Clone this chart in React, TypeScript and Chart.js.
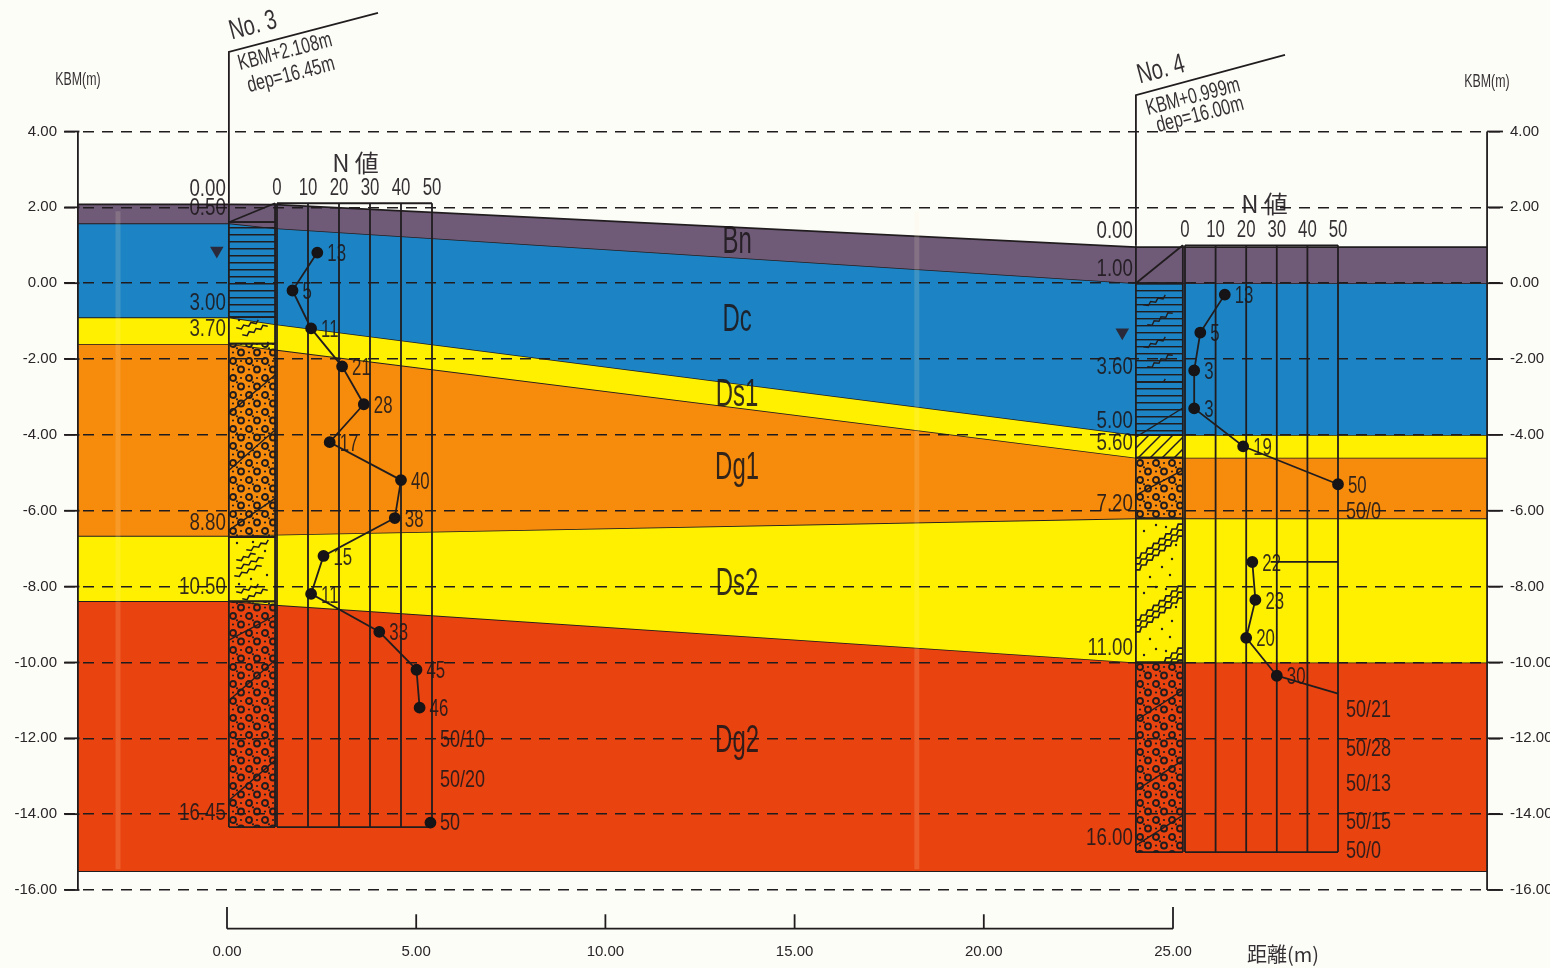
import React, { useEffect, useRef } from "react";
import { Chart, registerables } from "chart.js";
Chart.register(...registerables);

// ---------- geology (distance m, KBM m) ----------
const boundaryX = [-3.94, 0.05, 1.27, 24.02, 33.3];
const topBn = [2.08, 2.08, 2.07, 0.95, 0.95];
const topDc = [1.58, 1.58, 1.45, 0.0, 0.0];
const topDs1 = [-0.9, -0.9, -1.08, -4.0, -4.0];
const topDg1 = [-1.6, -1.6, -1.75, -4.6, -4.6];
const topDs2 = [-6.66, -6.66, -6.63, -6.2, -6.2];
const topDg2 = [-8.38, -8.38, -8.48, -10.0, -10.0];
const bottomDg2 = [-15.5, -15.5, -15.5, -15.5, -15.5];
const layerNames = ["Bn", "Dc", "Ds1", "Dg1", "Ds2", "Dg2"];
const layerNameY = [1.13, -0.92, -2.9, -4.83, -7.89, -12.03];
const layerColors = ["#6f5b78", "#1c84c4", "#fff000", "#f68b0c", "#fff000", "#e9430f"];
const layerNameX = 13.48;
const foldX = [-2.88, 18.23];

const yTickValues = [4, 2, 0, -2, -4, -6, -8, -10, -12, -14, -16];
const xTickValues = [0, 5, 10, 15, 20, 25];
const nTickValues = [0, 10, 20, 30, 40, 50];

// ---------- No.3 ----------
const no3Kbm = 2.108;
const no3Depths = [0, 0.5, 3, 3.7, 8.8, 10.5, 16.45];
const no3Soils = ["none", "clay", "sandShort", "gravel", "sandShort", "gravel"];
const no3Slashes = [[5.54, 4.53], [7.04, 5.98], [8.62, 7.78], [11.52, 10.87], [13.11, 12.05], [15.75, 14.69]];
const no3PointDepths = [1.3, 2.3, 3.3, 4.3, 5.3, 6.3, 7.3, 8.3, 9.3, 10.3, 11.3, 12.3, 13.3];
const no3PointN = [13, 5, 11, 21, 28, 17, 40, 38, 15, 11, 33, 45, 46];
const no3LastPointDepth = [16.33];
const no3LastPointN = [49.5];
const no3Labels = ["13", "5", "11", "21", "28", "17", "40", "38", "15", "11", "33", "45", "46"];
const no3ExtraLabels = ["50/10", "50/20", "50"];
const no3ExtraY = [-12.0, -13.06, -14.19];

// ---------- No.4 ----------
const no4Kbm = 0.999;
const no4Depths = [0, 1, 3.6, 5, 5.6, 7.2, 11, 16];
const no4Soils = ["none", "clayWave", "clay", "hatch", "gravel", "sandLong", "gravel"];
const no4Slashes = [[5.06, 4.29], [6.59, 5.93], [12.53, 11.73], [14.37, 13.58], [15.82, 15.03]];
const no4PointDepthsA = [1.3, 2.3, 3.3, 4.3, 5.3, 6.3];
const no4PointNA = [13, 5, 3, 3, 19, 50];
const no4LabelsA = ["13", "5", "3", "3", "19", "50"];
const no4PointDepthsB = [8.35, 9.35, 10.35, 11.35];
const no4PointNB = [22, 23, 20, 30];
const no4LabelsB = ["22", "23", "20", "30"];
const no4ExtraLabels = ["50/0", "50/21", "50/28", "50/13", "50/15", "50/0"];
const no4ExtraY = [-5.99, -11.21, -12.24, -13.16, -14.17, -14.93];

const waterLevels = [
  { x: -0.27, y: 0.86 },
  { x: 23.66, y: -1.3 },
];

const DARK = "#211d1f";
const FONT = "'Liberation Sans',Arial,sans-serif";
const CJK = "'Noto Sans CJK JP',sans-serif";

function tile(w: number, h: number, ox: number, oy: number, draw: (c: CanvasRenderingContext2D) => void) {
  const cv = document.createElement("canvas");
  cv.width = w;
  cv.height = h;
  const c = cv.getContext("2d")!;
  c.strokeStyle = DARK;
  c.fillStyle = DARK;
  draw(c);
  const p = c.createPattern(cv, "repeat")!;
  p.setTransform(new DOMMatrix().translate(ox, oy));
  return p;
}

function wave(c: CanvasRenderingContext2D, x0: number, y0: number, x1: number, y1: number) {
  const n = Math.max(4, Math.round(Math.hypot(x1 - x0, y1 - y0) / 4));
  c.beginPath();
  for (let i = 0; i <= n; i++) {
    const t = i / n;
    const off = i % 2 ? 1.2 : -1.2;
    const x = x0 + (x1 - x0) * t + off * 0.6;
    const y = y0 + (y1 - y0) * t + off;
    if (i === 0) c.moveTo(x, y);
    else c.lineTo(x, y);
  }
  c.stroke();
}

function dots(c: CanvasRenderingContext2D, pts: number[][], r = 1.2) {
  pts.forEach(([x, y]) => {
    c.beginPath();
    c.arc(x, y, r, 0, Math.PI * 2);
    c.fill();
  });
}

function makePatterns(ox: number, sandY: number) {
  const gravel = tile(16, 17, ox, 0, (c) => {
    c.lineWidth = 1.9;
    [[4, 4], [12, 12.5]].forEach(([x, y]) => {
      c.beginPath();
      c.arc(x, y, 3, 0, Math.PI * 2);
      c.stroke();
    });
    dots(c, [[12, 4], [4, 12.5], [8, 8.3]], 1.1);
  });
  const clay = tile(10, 7, 0, 0, (c) => {
    c.fillRect(0, 3, 10, 1.5);
  });
  const clayWave = tile(46, 42, ox, 0, (c) => {
    c.lineWidth = 1.4;
    for (let y = 3; y < 42; y += 7) c.fillRect(0, y, 46, 1.4);
    wave(c, 12, 32, 36, 18);
    wave(c, 8, 12, 30, 2);
  });
  const sandLong = tile(46, 62, ox, sandY, (c) => {
    c.lineWidth = 1.7;
    [0, 6, 12].forEach((o) => wave(c, 0, 38 + o, 46, 2 + o));
    dots(c, [[30, 6], [20, 4], [36, 38], [26, 46], [14, 56], [34, 54], [8, 10], [40, 24]]);
  });
  const sandShort = tile(46, 66, ox, sandY, (c) => {
    c.lineWidth = 1.5;
    wave(c, 8, 24, 26, 16);
    wave(c, 8, 32, 34, 20);
    wave(c, 6, 40, 32, 28);
    wave(c, 18, 14, 40, 4);
    wave(c, 8, 56, 30, 48);
    wave(c, 14, 63, 38, 52);
    dots(c, [[8, 6], [24, 5], [38, 38], [36, 14], [10, 47], [22, 42]]);
  });
  const hatch = tile(12, 12, 0, 0, (c) => {
    c.lineWidth = 1.5;
    c.beginPath();
    c.moveTo(-2, 14);
    c.lineTo(14, -2);
    c.moveTo(-2, 2);
    c.lineTo(2, -2);
    c.moveTo(10, 14);
    c.lineTo(14, 10);
    c.stroke();
  });
  return { gravel, clay, clayWave, sandLong, sandShort, hatch } as Record<string, CanvasPattern>;
}

function lineDs(data: any[], extra: any = {}) {
  return {
    data,
    borderColor: DARK,
    borderWidth: 1.8,
    pointRadius: 0,
    fill: false,
    tension: 0,
    clip: false,
    xAxisID: "x",
    yAxisID: "y",
    order: 10,
    ...extra,
  };
}

function column(x0: number, x1: number, kbm: number, depths: number[], soils: string[], slashes: number[][], pats: Record<string, CanvasPattern>) {
  const out: any[] = [];
  soils.forEach((s, i) => {
    const top = kbm - depths[i];
    const bottom = kbm - depths[i + 1];
    if (pats[s]) {
      out.push(
        lineDs([{ x: x0, y: top }, { x: x1, y: top }], {
          fill: { target: { value: bottom } },
          backgroundColor: pats[s],
          order: 50,
        })
      );
    }
    out.push(lineDs([{ x: x0, y: bottom }, { x: x1, y: bottom }]));
  });
  const btm = kbm - depths[depths.length - 1];
  out.push(lineDs([{ x: x0, y: kbm }, { x: x0, y: btm }]));
  out.push(lineDs([{ x: x1, y: kbm }, { x: x1, y: btm }]));
  // the fill-layer diagonal
  out.push(lineDs([{ x: x0, y: kbm - depths[1] }, { x: x1, y: kbm }]));
  slashes.forEach(([a, b]) => {
    out.push(lineDs([{ x: x0, y: kbm - a }, { x: x1, y: kbm - b }], { borderWidth: 1.4 }));
  });
  return out;
}

function nGrid(axis: string, kbm: number, bottomDepth: number) {
  const out: any[] = [];
  nTickValues.forEach((t) => {
    out.push(lineDs([{ x: t, y: kbm }, { x: t, y: kbm - bottomDepth }], { xAxisID: axis }));
  });
  out.push(lineDs([{ x: 0, y: kbm }, { x: 50, y: kbm }], { xAxisID: axis }));
  out.push(lineDs([{ x: 0, y: kbm - bottomDepth }, { x: 50, y: kbm - bottomDepth }], { xAxisID: axis }));
  return out;
}

function nPoints(axis: string, kbm: number, ns: number[], depths: number[], extra: any = {}) {
  return lineDs(
    ns.map((n, i) => ({ x: n, y: kbm - depths[i] })),
    {
      xAxisID: axis,
      pointRadius: 5,
      pointBackgroundColor: "#161416",
      pointBorderColor: "#161416",
      order: 5,
      ...extra,
    }
  );
}

const textPlugin = {
  id: "sectionText",
  afterDraw(chart: any) {
    const { ctx, scales } = chart;
    const { x, y, n3, n4 } = scales;
    const txt = (
      s: string,
      px: number,
      py: number,
      size: number,
      sx: number,
      align: CanvasTextAlign = "center",
      rot = 0,
      family = FONT,
      color = "rgba(30,24,28,0.9)"
    ) => {
      ctx.save();
      ctx.translate(px, py);
      ctx.rotate(rot);
      ctx.scale(sx, 1);
      ctx.font = `${size}px ${family}`;
      ctx.fillStyle = color;
      ctx.textAlign = align;
      ctx.textBaseline = "middle";
      ctx.fillText(s, 0, 0);
      ctx.restore();
    };
    ctx.save();
    layerNames.forEach((n, i) => txt(n, x.getPixelForValue(layerNameX), y.getPixelForValue(layerNameY[i]) + 2, 38, 0.63));

    const depthLabels = (kbm: number, depths: number[], bx: number) =>
      depths.forEach((d) => {
        txt(d.toFixed(2), x.getPixelForValue(bx) - 3, y.getPixelForValue(kbm - d) - 14, 24, 0.78, "right");
      });
    depthLabels(no3Kbm, no3Depths, 0.05);
    depthLabels(no4Kbm, no4Depths, 24.02);

    const nLabels = (axis: any, labels: string[], ns: number[], depths: number[], kbm: number) =>
      labels.forEach((l, i) => txt(l, axis.getPixelForValue(ns[i]) + 10, y.getPixelForValue(kbm - depths[i]) + 2, 24, 0.7, "left"));
    nLabels(n3, no3Labels, no3PointN, no3PointDepths, no3Kbm);
    nLabels(n4, no4LabelsA, no4PointNA, no4PointDepthsA, no4Kbm);
    nLabels(n4, no4LabelsB, no4PointNB, no4PointDepthsB, no4Kbm);
    no3ExtraLabels.forEach((l, i) => txt(l, n3.getPixelForValue(50) + 8, y.getPixelForValue(no3ExtraY[i]) + 2, 24, 0.75, "left"));
    no4ExtraLabels.forEach((l, i) => txt(l, n4.getPixelForValue(50) + 8, y.getPixelForValue(no4ExtraY[i]) + 2, 24, 0.75, "left"));

    nTickValues.forEach((t) => {
      txt(String(t), n3.getPixelForValue(t), y.getPixelForValue(no3Kbm) - 15, 24, 0.7);
      txt(String(t), n4.getPixelForValue(t), y.getPixelForValue(no4Kbm) - 15, 24, 0.7);
    });
    txt("N 値", n3.getPixelForValue(25) + 1, y.getPixelForValue(no3Kbm) - 40, 24, 1, "center", 0, CJK);
    txt("N 値", n4.getPixelForValue(25) + 3, y.getPixelForValue(no4Kbm) - 41, 24, 1, "center", 0, CJK);

    const rot = (-14.7 * Math.PI) / 180;
    txt("No. 3", 253, 26, 28, 0.72, "center", rot);
    txt("KBM+2.108m", 285, 52, 22, 0.72, "center", rot);
    txt("dep=16.45m", 291, 75, 22, 0.73, "center", rot);
    txt("No. 4", 1161, 70, 28, 0.72, "center", rot);
    txt("KBM+0.999m", 1193, 97, 22, 0.72, "center", rot);
    txt("dep=16.00m", 1200, 115, 22, 0.73, "center", rot);
    txt("KBM(m)", 78, 80, 19, 0.65);
    txt("KBM(m)", 1487, 82, 19, 0.65);
    txt("距離(m)", 1283, 954, 20, 1, "center", 0, CJK);
    ctx.restore();
  },
};

export default function App() {
  const ref = useRef<HTMLCanvasElement>(null);
  useEffect(() => {
    const pats3 = makePatterns(229, 537);
    const pats4 = makePatterns(1136, 521);
    const boundaries = [topBn, topDc, topDs1, topDg1, topDs2, topDg2, bottomDg2];
    const layerDs = boundaries.map((b, i) =>
      lineDs(
        b.map((v, k) => ({ x: boundaryX[k], y: v })),
        {
          fill: i < 6 ? "+1" : false,
          backgroundColor: layerColors[i] ?? "transparent",
          order: 100,
        }
      )
    );
    const folds = foldX.map((fx) =>
      lineDs([{ x: fx, y: 1.9 }, { x: fx, y: -15.45 }], { borderColor: "rgba(255,240,200,0.15)", borderWidth: 5, order: 90 })
    );
    const yTicksSolid: any[] = [];
    yTickValues.forEach((v) => {
      yTicksSolid.push(lineDs([{ x: -4.3, y: v }, { x: -3.9, y: v }]));
      yTicksSolid.push(lineDs([{ x: 33.3, y: v }, { x: 33.72, y: v }]));
    });
    const rulerY = -17.02;
    const ruler: any[] = [lineDs([{ x: 0, y: rulerY }, { x: 25, y: rulerY }])];
    xTickValues.forEach((t) => {
      const tall = t === 0 || t === 25;
      ruler.push(lineDs([{ x: t, y: rulerY }, { x: t, y: tall ? -16.45 : -16.64 }]));
    });
    const datasets = [
      ...layerDs,
      ...folds,
      ...column(0.05, 1.27, no3Kbm, no3Depths, no3Soils, no3Slashes, pats3),
      ...column(24.02, 25.26, no4Kbm, no4Depths, no4Soils, no4Slashes, pats4),
      ...nGrid("n3", no3Kbm, 16.45),
      ...nGrid("n4", no4Kbm, 16),
      lineDs([{ x: 0.05, y: 2.108 }, { x: 0.05, y: 6.1 }, { x: 3.99, y: 7.13 }]),
      lineDs([{ x: 24.02, y: 0.999 }, { x: 24.02, y: 4.96 }, { x: 27.96, y: 6.02 }]),
      lineDs([{ x: -3.94, y: 4 }, { x: -3.94, y: -16 }]),
      lineDs([{ x: 33.3, y: 4 }, { x: 33.3, y: -16 }]),
      ...yTicksSolid,
      ...ruler,
      nPoints("n3", no3Kbm, no3PointN, no3PointDepths),
      nPoints("n3", no3Kbm, no3LastPointN, no3LastPointDepth),
      nPoints("n4", no4Kbm, no4PointNA, no4PointDepthsA),
      nPoints("n4", no4Kbm, no4PointNB, no4PointDepthsB),
      lineDs([{ x: 30, y: -10.35 }, { x: 50, y: -10.82 }], { xAxisID: "n4" }),
      lineDs([{ x: 28, y: -7.35 }, { x: 50, y: -7.35 }], { xAxisID: "n4" }),
      lineDs(waterLevels, {
        showLine: false,
        pointStyle: "triangle",
        rotation: 180,
        pointRadius: 6,
        pointBackgroundColor: "#2a2a3a",
        pointBorderColor: "#2a2a3a",
        order: 6,
      }),
    ];
    const pxX = (p: number, zero: number, per: number) => (p - zero) / per;
    const tickFont = { family: FONT, size: 15 };
    const chart = new Chart(ref.current!, {
      type: "line",
      data: { datasets } as any,
      plugins: [textPlugin],
      options: {
        animation: false,
        responsive: false,
        devicePixelRatio: 1,
        layout: { padding: { left: 3, right: 0, top: 131.5, bottom: 0 } },
        plugins: { legend: { display: false }, tooltip: { enabled: false } },
        scales: {
          x: {
            type: "linear",
            position: "bottom",
            min: pxX(64, 227, 37.84),
            max: pxX(1503, 227, 37.84),
            afterBuildTicks: (a: any) => {
              a.ticks = xTickValues.map((value) => ({ value }));
            },
            afterFit: (a: any) => {
              a.height = 78;
            },
            border: { display: false },
            grid: { display: false, drawTicks: false },
            ticks: {
              autoSkip: false,
              maxRotation: 0,
              padding: 53,
              color: "#2a2528",
              font: tickFont,
              callback: (v: any) => Number(v).toFixed(2),
            },
          },
          n3: { type: "linear", display: false, position: "top", min: pxX(64, 277, 3.1), max: pxX(1503, 277, 3.1) },
          n4: { type: "linear", display: false, position: "top", min: pxX(64, 1185, 3.06), max: pxX(1503, 1185, 3.06) },
          y: {
            type: "linear",
            position: "left",
            min: -16,
            max: 4,
            afterFit: (a: any) => {
              a.width = 61;
            },
            border: { display: false, dash: [11, 8] },
            grid: { color: "#201c1e", lineWidth: 1.6, z: 1, drawTicks: false },
            ticks: {
              stepSize: 2,
              padding: 7,
              autoSkip: false,
              color: "#2a2528",
              font: tickFont,
              callback: (v: any) => Number(v).toFixed(2),
            },
          },
          y2: {
            type: "linear",
            position: "right",
            min: -16,
            max: 4,
            afterFit: (a: any) => {
              a.width = 47;
            },
            border: { display: false },
            grid: { display: false, drawTicks: false },
            ticks: {
              stepSize: 2,
              padding: 7,
              autoSkip: false,
              color: "#2a2528",
              font: tickFont,
              callback: (v: any) => Number(v).toFixed(2),
            },
          },
        },
      } as any,
    });
    return () => chart.destroy();
  }, []);
  return (
    <canvas
      ref={ref}
      width={1550}
      height={968}
      style={{ position: "absolute", left: 0, top: 0, display: "block", background: "#fdfdf8", filter: "blur(0.5px)" }}
    />
  );
}
